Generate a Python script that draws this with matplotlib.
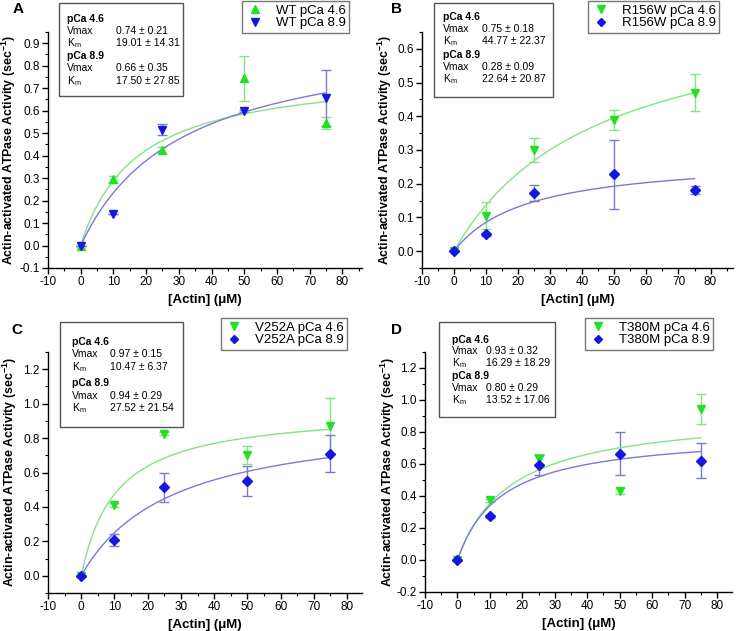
import numpy as np
import matplotlib
matplotlib.use("Agg")
import matplotlib.pyplot as plt
from matplotlib.patches import Rectangle
from matplotlib.ticker import MultipleLocator, FormatStrFormatter

plt.rcParams['font.family'] = ['Liberation Sans', 'DejaVu Sans']
plt.rcParams['axes.unicode_minus'] = False
plt.rcParams['mathtext.fontset'] = 'custom'
plt.rcParams['mathtext.rm'] = 'Liberation Sans'
plt.rcParams['mathtext.bf'] = 'Liberation Sans:bold'
plt.rcParams['mathtext.default'] = 'regular'

# ---------------- data ----------------
actin = [0, 10, 25, 50, 75]

a_ca46 = [0.0, 0.295, 0.425, 0.745, 0.545]
a_ca46_err = [0.0, 0.015, 0.015, 0.10, 0.027]
a_ca89 = [0.0, 0.14, 0.515, 0.60, 0.655]
a_ca89_err = [0.0, 0.0, 0.025, 0.005, 0.125]

b_ca46 = [0.0, 0.105, 0.30, 0.39, 0.47]
b_ca46_err = [0.0, 0.04, 0.035, 0.03, 0.054]
b_ca89 = [0.0, 0.05, 0.173, 0.228, 0.182]
b_ca89_err = [0.0, 0.005, 0.023, 0.102, 0.012]

c_ca46 = [0.0, 0.41, 0.825, 0.70, 0.87]
c_ca46_err = [0.0, 0.01, 0.01, 0.053, 0.165]
c_ca89 = [0.0, 0.21, 0.515, 0.55, 0.71]
c_ca89_err = [0.0, 0.035, 0.085, 0.085, 0.105]

d_ca46 = [0.0, 0.373, 0.633, 0.43, 0.944]
d_ca46_err = [0.0, 0.01, 0.03, 0.02, 0.093]
d_ca89 = [0.0, 0.273, 0.596, 0.665, 0.621]
d_ca89_err = [0.0, 0.01, 0.063, 0.133, 0.11]

# drawn Michaelis-Menten fit curves (Vmax, Km)
fit_ca46 = [(0.786, 17.1), (0.75, 44.77), (0.97, 10.47), (0.93, 16.29)]
fit_ca89 = [(0.959, 30.8), (0.28, 22.64), (0.94, 27.52), (0.80, 13.52)]

panel_letters = ['A', 'B', 'C', 'D']
legend_names = ['WT', 'R156W', 'V252A', 'T380M']
stats_ca46 = [('0.74 ± 0.21', '19.01 ± 14.31'), ('0.75 ± 0.18', '44.77 ± 22.37'),
              ('0.97 ± 0.15', '10.47 ± 6.37'), ('0.93 ± 0.32', '16.29 ± 18.29')]
stats_ca89 = [('0.66 ± 0.35', '17.50 ± 27.85'), ('0.28 ± 0.09', '22.64 ± 20.87'),
              ('0.94 ± 0.29', '27.52 ± 21.54'), ('0.80 ± 0.29', '13.52 ± 17.06')]

# ---------------- layout ----------------
W, H = 738, 631
fig = plt.figure(figsize=(W / 100, H / 100), dpi=100)

def px_axes(l, t, r, b):
    return fig.add_axes([l / W, 1 - b / H, (r - l) / W, (b - t) / H])

ax_px = [(48, 32, 362, 268), (422, 32, 733, 268), (48, 352, 362, 593), (425, 352, 732, 592)]
xlims = [(-10, 86), (-10, 87), (-10, 84.5), (-10, 84.6)]
ylims = [(-0.1, 0.95), (-0.05, 0.65), (-0.1, 1.3), (-0.2, 1.3)]
ymajor = [0.1, 0.1, 0.2, 0.2]
ystart = [-0.1, 0.0, 0.0, -0.2]
ytop = [0.9, 0.6, 1.2, 1.2]
ylabel_x = [18, 394, 19, 397]

box_px = [(59, 3, 183, 96), (434, 3, 553, 97), (60, 322, 183, 427), (439, 322, 555, 417)]
line_y = [[19, 31, 43, 56, 68, 81], [17, 29, 41, 55, 67, 79],
          [342, 354, 367, 383, 396, 408], [340, 351, 363, 376, 388, 400]]
col_x = [(67, 116), (443, 482), (72, 110), (452, 486)]
leg_px = [(349, 1), (719, 1), (347, 318), (713, 318)]
letter_px = [(18, 9), (397, 9), (17, 330), (397, 330)]

GREEN = '#22e022'
BLUE = '#1616e0'
GREEN_L = '#84e484'
BLUE_L = '#7a7ad6'

markers46 = ['^', 'v', 'v', 'v']
markers89 = ['v', 'D', 'D', 'D']

data46 = [(a_ca46, a_ca46_err), (b_ca46, b_ca46_err), (c_ca46, c_ca46_err), (d_ca46, d_ca46_err)]
data89 = [(a_ca89, a_ca89_err), (b_ca89, b_ca89_err), (c_ca89, c_ca89_err), (d_ca89, d_ca89_err)]

xfit = np.linspace(0, 75, 200)

for i in range(4):
    ax = px_axes(*ax_px[i])
    y46, e46 = data46[i]
    y89, e89 = data89[i]
    ax.errorbar(actin, y46, yerr=e46, fmt='none', ecolor=GREEN_L, elinewidth=1.0,
                capsize=3.5, capthick=1.0, zorder=2)
    ax.errorbar(actin, y89, yerr=e89, fmt='none', ecolor=BLUE_L, elinewidth=1.0,
                capsize=3.5, capthick=1.0, zorder=2)
    v, k = fit_ca46[i]
    ax.plot(xfit, v * xfit / (k + xfit), color=GREEN_L, lw=1.0, zorder=3)
    v, k = fit_ca89[i]
    ax.plot(xfit, v * xfit / (k + xfit), color=BLUE_L, lw=1.0, zorder=3)
    ms46 = 6
    ms89 = 6 if markers89[i] != 'D' else 5
    h1, = ax.plot(actin, y46, linestyle='none', marker=markers46[i], color=GREEN,
                  markersize=ms46, zorder=4, label=f'{legend_names[i]} pCa 4.6')
    h2, = ax.plot(actin, y89, linestyle='none', marker=markers89[i], color=BLUE,
                  markersize=ms89, zorder=5, label=f'{legend_names[i]} pCa 8.9')

    ax.set_xlim(*xlims[i])
    ax.set_ylim(*ylims[i])
    ax.set_xticks(np.arange(-10, 81, 10))
    ax.xaxis.set_minor_locator(MultipleLocator(5))
    ax.set_yticks(np.round(np.arange(ystart[i], ytop[i] + 1e-9, ymajor[i]), 2))
    ax.yaxis.set_minor_locator(MultipleLocator(ymajor[i] / 2))
    ax.yaxis.set_major_formatter(FormatStrFormatter('%.1f'))
    ax.spines['top'].set_visible(False)
    ax.spines['right'].set_visible(False)
    for s in ('left', 'bottom'):
        ax.spines[s].set_linewidth(1.0)
    ax.tick_params(which='major', direction='out', length=4, width=1.0, labelsize=8.5, pad=2)
    ax.tick_params(which='minor', direction='out', length=2.5, width=0.8)
    ax.set_xlabel('[Actin] (μM)', fontsize=9.5, fontweight='bold', labelpad=4)
    ax.set_ylabel(r'Actin-activated ATPase Activity (sec$^{\mathbf{-1}}$)', fontsize=8.9,
                  fontweight='bold')
    l, t, r, b = ax_px[i]
    ax.yaxis.set_label_coords((ylabel_x[i] - l) / (r - l), 0.5)

    # legend
    lx, ly = leg_px[i]
    leg = ax.legend(handles=[h1, h2], loc='upper right',
                    bbox_to_anchor=(lx / W, 1 - ly / H), bbox_transform=fig.transFigure,
                    borderaxespad=0, fontsize=9.5, frameon=True, fancybox=False,
                    handlelength=1.4, handletextpad=0.9, borderpad=0.25, labelspacing=0.05,
                    markerscale=0.9)
    leg.get_frame().set_edgecolor('#555555')
    leg.get_frame().set_linewidth(1.0)

    # stats box
    bl, bt, br, bb = box_px[i]
    fig.patches.append(Rectangle((bl / W, 1 - bb / H), (br - bl) / W, (bb - bt) / H,
                                 transform=fig.transFigure, fill=False,
                                 edgecolor='#555555', linewidth=1.0))
    c1, c2 = col_x[i]
    ys = line_y[i]
    km = r'K$_{m}$' if i == 1 else r'K$_{\mathregular{m}}$'
    rows = [('pCa 4.6', None, True), ('Vmax', stats_ca46[i][0], False), (km, stats_ca46[i][1], False),
            ('pCa 8.9', None, True), ('Vmax', stats_ca89[i][0], False), (km, stats_ca89[i][1], False)]
    for (lab, val, bold), yy in zip(rows, ys):
        fig.text(c1 / W, 1 - yy / H, lab, fontsize=7.5, fontweight='bold' if bold else 'normal',
                 va='center', ha='left')
        if val is not None:
            fig.text(c2 / W, 1 - yy / H, val, fontsize=7.5, va='center', ha='left')

    # panel letter
    px_, py_ = letter_px[i]
    fig.text(px_ / W, 1 - py_ / H, panel_letters[i], fontsize=11, fontweight='bold',
             ha='center', va='center')

fig.savefig('out.png', dpi=100)
